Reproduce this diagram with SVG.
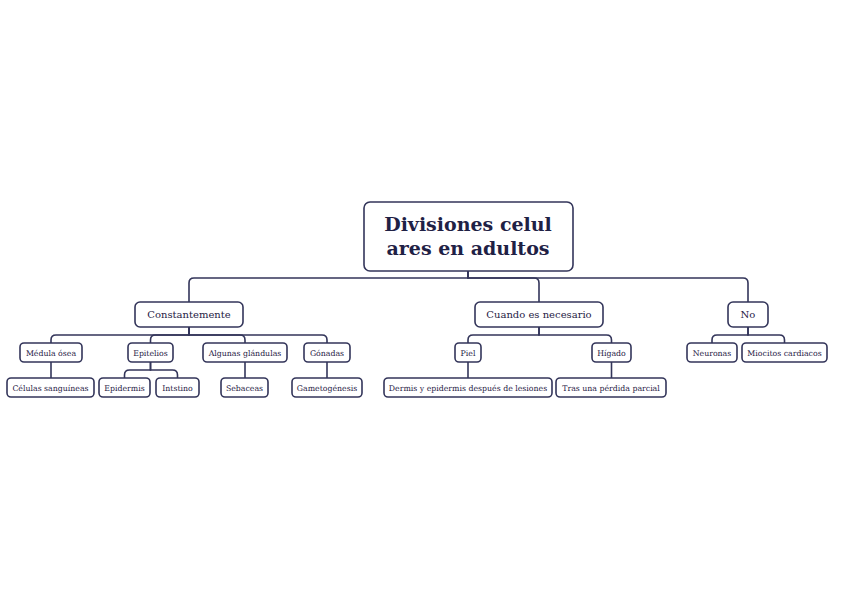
<svg xmlns="http://www.w3.org/2000/svg" width="848" height="599" viewBox="0 0 848 599">
<style>
.b{fill:#fff;stroke:#33355a;stroke-width:1.6}
.t{font-family:"DejaVu Serif","Liberation Serif",serif;fill:#1f2145;text-anchor:middle}
.r{font-size:19px;font-weight:bold}
.m{font-size:10px}
.s{font-size:7.8px}
.c{fill:none;stroke:#33355a;stroke-width:1.6}
</style>
<rect width="848" height="599" fill="#fff"/>
<g id="connectors">
<path class="c" d="M468 271V278H194Q189 278 189 283V302"/>
<path class="c" d="M468 271V278H534Q539 278 539 283V302"/>
<path class="c" d="M468 271V278H743Q748 278 748 283V302"/>
<path class="c" d="M189 327V335H56Q51 335 51 340V343"/>
<path class="c" d="M189 327V335H155.5Q150.5 335 150.5 340V343"/>
<path class="c" d="M189 327V335H240Q245 335 245 340V343"/>
<path class="c" d="M189 327V335H322Q327 335 327 340V343"/>
<path class="c" d="M539 327V335H473Q468 335 468 340V343"/>
<path class="c" d="M539 327V335H606.5Q611.5 335 611.5 340V343"/>
<path class="c" d="M748 327V335H717Q712 335 712 340V343"/>
<path class="c" d="M748 327V335H779.5Q784.5 335 784.5 340V343"/>
<path class="c" d="M51 362V378"/>
<path class="c" d="M150.5 362V370H129.5Q124.5 370 124.5 375V378"/>
<path class="c" d="M150.5 362V370H172.5Q177.5 370 177.5 375V378"/>
<path class="c" d="M245 362V378"/>
<path class="c" d="M327 362V378"/>
<path class="c" d="M468 362V378"/>
<path class="c" d="M611.5 362V378"/>
</g>
<g id="root"><rect class="b" x="364" y="202" width="209" height="69" rx="6"/><text class="t r" x="468" y="231">Divisiones celul</text><text class="t r" x="468" y="255">ares en adultos</text></g>
<g id="constantemente"><rect class="b" x="135" y="302" width="108" height="25" rx="5"/><text class="t m" x="189" y="318">Constantemente</text></g>
<g id="cuando"><rect class="b" x="475" y="302" width="128" height="25" rx="5"/><text class="t m" x="539" y="318">Cuando es necesario</text></g>
<g id="no"><rect class="b" x="728" y="302" width="40" height="25" rx="5"/><text class="t m" x="748" y="318">No</text></g>
<g id="medula"><rect class="b" x="20" y="343" width="62" height="19" rx="4"/><text class="t s" x="51" y="355.5">Médula ósea</text></g>
<g id="epitelios"><rect class="b" x="128" y="343" width="45" height="19" rx="4"/><text class="t s" x="150.5" y="355.5">Epitelios</text></g>
<g id="glandulas"><rect class="b" x="203" y="343" width="84" height="19" rx="4"/><text class="t s" x="245" y="355.5">Algunas glándulas</text></g>
<g id="gonadas"><rect class="b" x="304" y="343" width="46" height="19" rx="4"/><text class="t s" x="327" y="355.5">Gónadas</text></g>
<g id="piel"><rect class="b" x="455" y="343" width="26" height="19" rx="4"/><text class="t s" x="468" y="355.5">Piel</text></g>
<g id="higado"><rect class="b" x="592" y="343" width="39" height="19" rx="4"/><text class="t s" x="611.5" y="355.5">Hígado</text></g>
<g id="neuronas"><rect class="b" x="687" y="343" width="50" height="19" rx="4"/><text class="t s" x="712" y="355.5">Neuronas</text></g>
<g id="miocitos"><rect class="b" x="742" y="343" width="85" height="19" rx="4"/><text class="t s" x="784.5" y="355.5">Miocitos cardiacos</text></g>
<g id="celulas"><rect class="b" x="7" y="378" width="87" height="19" rx="4"/><text class="t s" x="50.5" y="390.5">Células sanguíneas</text></g>
<g id="epidermis"><rect class="b" x="99" y="378" width="51" height="19" rx="4"/><text class="t s" x="124.5" y="390.5">Epidermis</text></g>
<g id="intstino"><rect class="b" x="156" y="378" width="43" height="19" rx="4"/><text class="t s" x="177.5" y="390.5">Intstino</text></g>
<g id="sebaceas"><rect class="b" x="221" y="378" width="47" height="19" rx="4"/><text class="t s" x="244.5" y="390.5">Sebaceas</text></g>
<g id="gametogenesis"><rect class="b" x="292" y="378" width="70" height="19" rx="4"/><text class="t s" x="327" y="390.5">Gametogénesis</text></g>
<g id="dermis"><rect class="b" x="384" y="378" width="168" height="19" rx="4"/><text class="t s" x="468" y="390.5">Dermis y epidermis después de lesiones</text></g>
<g id="tras"><rect class="b" x="556" y="378" width="110" height="19" rx="4"/><text class="t s" x="611" y="390.5">Tras una pérdida parcial</text></g>
</svg>
